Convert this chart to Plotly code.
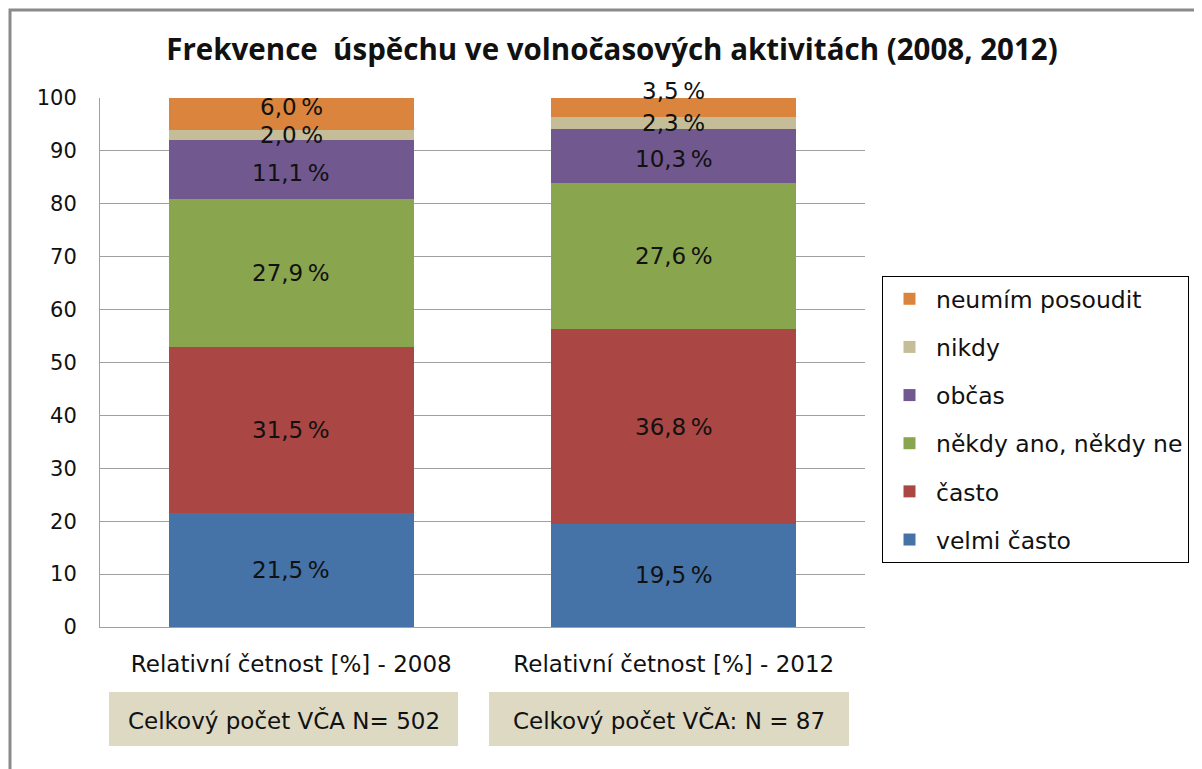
import plotly.graph_objects as go

categories = ["Relativní četnost [%] - 2008", "Relativní četnost [%] - 2012"]
series_names = ["velmi často", "často", "někdy ano, někdy ne", "občas", "nikdy", "neumím posoudit"]
velmi_casto = [21.5, 19.5]
casto = [31.5, 36.8]
nekdy = [27.9, 27.6]
obcas = [11.1, 10.3]
nikdy = [2.0, 2.3]
neumim = [6.0, 3.5]
series_values = [velmi_casto, casto, nekdy, obcas, nikdy, neumim]
colors = ["#4572A7", "#AA4643", "#89A54E", "#71588F", "#C4BD97", "#DB843D"]
y_ticks = list(range(0, 101, 10))
box_texts = ["Celkový počet VČA N= 502", "Celkový počet VČA: N = 87"]
title_text = "Frekvence  úspěchu ve volnočasových aktivitách (2008, 2012)"

FONT = "DejaVu Sans"
TFONT = "Open Sans"
OFF = 8  # browser body margin
W, H = 1202 - OFF, 769 - OFF
# plot area in reference (page) pixels
RL, RR, RT, RB = 100, 865, 98, 627
L, R, T, B = RL - OFF, RR - OFF, RT - OFF, RB - OFF
pw, ph = R - L, B - T


def px_x(rx):
    return (rx - RL) / pw


def px_y(ry):
    return (RB - ry) / ph


fig = go.Figure()
n = len(series_names)
for i, (name, vals, col) in enumerate(zip(series_names, series_values, colors)):
    fig.add_trace(go.Bar(
        x=categories, y=vals, name=name, marker=dict(color=col, line=dict(width=0)),
        legendgroup=f"g{i}", legendrank=1000 + (n - i), hoverinfo="skip",
    ))

# data labels at the middle of each segment
annotations = []
label_shift = {(5, 0): 7, (5, 1): 16, (3, 0): -3, (3, 1): -3}
for ci, cat in enumerate(categories):
    base = 0.0
    for si, vals in enumerate(series_values):
        v = vals[ci]
        mid = base + v / 2
        base += v
        annotations.append(dict(
            x=cat, y=mid, xref="x", yref="y", showarrow=False,
            xanchor="center", yanchor="middle",
            text=f"{v:.1f}".replace(".", ",") + "\u2009%",
            font=dict(family=FONT, size=23, color="#111111"),
            yshift=label_shift.get((si, ci), 0),
        ))

# bottom boxes
shapes = []
box_px = [(109, 458), (489, 849)]
for (x0, x1), txt in zip(box_px, box_texts):
    shapes.append(dict(type="rect", xref="paper", yref="paper",
                       x0=px_x(x0), x1=px_x(x1), y0=px_y(746), y1=px_y(692),
                       fillcolor="#DDD9C3", line=dict(width=0), layer="below"))
    annotations.append(dict(x=px_x((x0 + x1) / 2), y=px_y(720), xref="paper", yref="paper",
                            xanchor="center", yanchor="middle",
                            showarrow=False, text=txt,
                            font=dict(family=FONT, size=23, color="#111111")))

# outer frame
shapes.append(dict(type="rect", xref="paper", yref="paper",
                   x0=px_x(10), x1=px_x(1240), y0=px_y(800), y1=px_y(10),
                   line=dict(color="#8A8A8A", width=3), fillcolor="rgba(0,0,0,0)"))

fig.update_layout(
    width=W, height=H,
    margin=dict(l=L, r=W - R, t=T, b=H - B, autoexpand=False),
    paper_bgcolor="white", plot_bgcolor="white",
    barmode="stack", bargap=0.36,
    title=dict(text=f"<b>{title_text}</b>", x=(612 - OFF) / W, xanchor="center",
               y=1 - (50 - OFF) / H, yanchor="middle",
               font=dict(family=TFONT, size=29.5, color="#111111")),
    font=dict(family=FONT, color="#111111"),
    legend=dict(
        x=px_x(882), y=px_y(276), xanchor="left", yanchor="top",
        traceorder="grouped", tracegroupgap=14.6,
        bordercolor="#000000", borderwidth=1, bgcolor="white",
        font=dict(family=FONT, size=23.5, color="#111111"),
        itemwidth=43,
    ),
    xaxis=dict(showline=True, linecolor="#A0A0A0", linewidth=1, ticks="",
               tickfont=dict(family=FONT, size=23, color="#111111"),
               ticklabelstandoff=16, fixedrange=True),
    yaxis=dict(range=[0, 100], tickvals=y_ticks, showgrid=True, gridcolor="#A0A0A0",
               gridwidth=1, showline=True, linecolor="#A0A0A0", linewidth=1,
               ticks="", zeroline=False,
               tickfont=dict(family=FONT, size=21, color="#111111"),
               ticklabelstandoff=18, fixedrange=True),
    annotations=annotations,
    shapes=shapes,
    showlegend=True,
)

fig.write_html("out.html")
